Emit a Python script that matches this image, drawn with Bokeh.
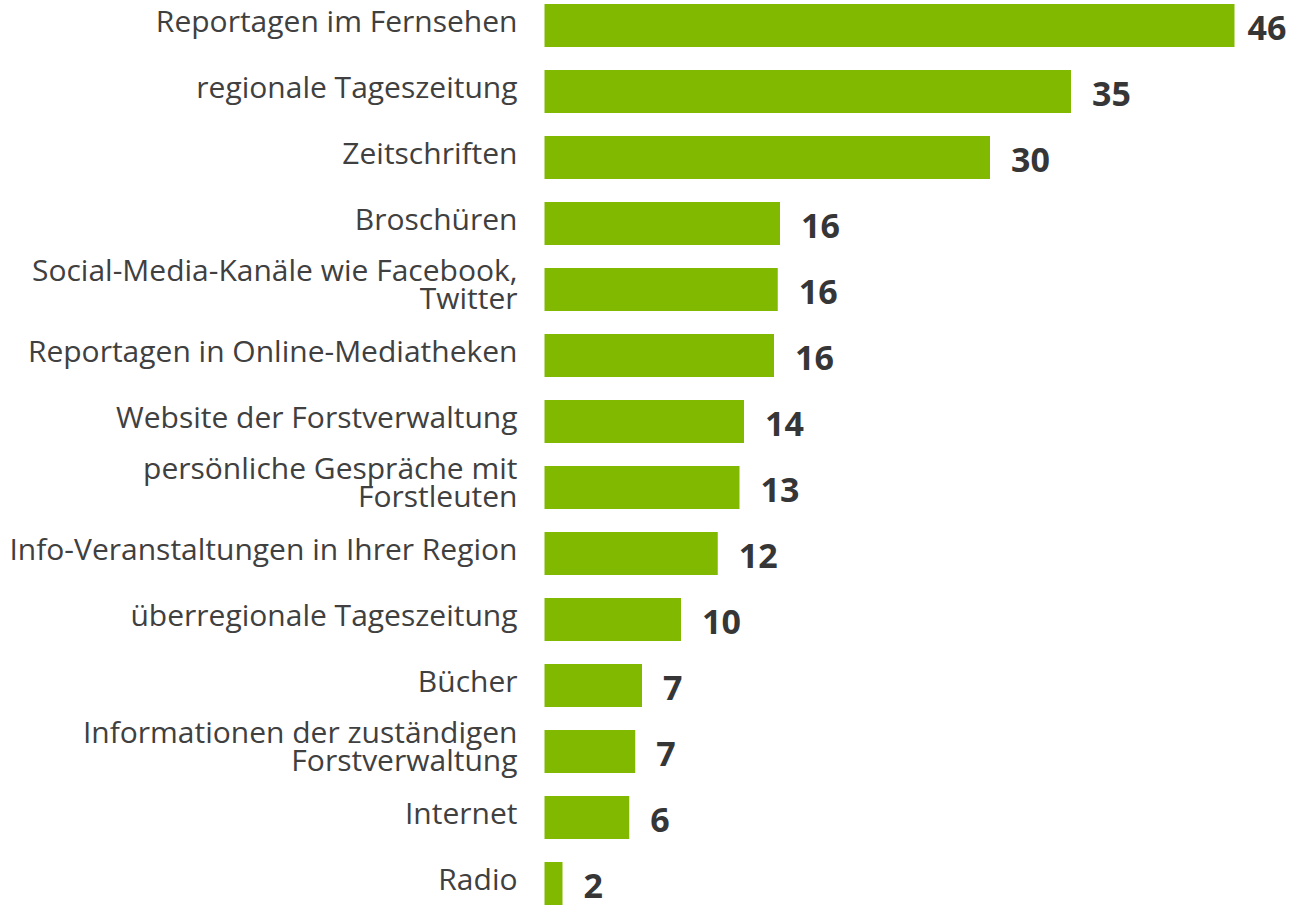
from bokeh.plotting import figure
from bokeh.models import ColumnDataSource, Range1d
from bokeh.core.properties import value
from bokeh.embed import file_html
from bokeh.resources import INLINE

categories = [
    "Reportagen im Fernsehen",
    "regionale Tageszeitung",
    "Zeitschriften",
    "Broschüren",
    "Social-Media-Kanäle wie Facebook,\nTwitter",
    "Reportagen in Online-Mediatheken",
    "Website der Forstverwaltung",
    "persönliche Gespräche mit\nForstleuten",
    "Info-Veranstaltungen in Ihrer Region",
    "überregionale Tageszeitung",
    "Bücher",
    "Informationen der zuständigen\nForstverwaltung",
    "Internet",
    "Radio",
]
bar_values = [46.0, 35.1, 29.7, 15.7, 15.55, 15.3, 13.3, 13.0, 11.55, 9.1, 6.5, 6.05, 5.65, 1.2]
value_labels = ["46", "35", "30", "16", "16", "16", "14", "13", "12", "10", "7", "7", "6", "2"]

W, H = 1287, 908
ROW_PX = 66.0
FIRST_CENTER_PX = 25.0
ORIGIN_PX = 544.0
SCALE = 15.0  # px per unit

BAR_COLOR = "#80B900"
TEXT_COLOR = "#404040"
VALUE_COLOR = "#363636"
FONT = "Open Sans"
TEXT_SHIFT = -11.0

n = len(categories)
rows = list(range(n))

y_top = -FIRST_CENTER_PX / ROW_PX
y_bottom = (H - FIRST_CENTER_PX) / ROW_PX
x_start = -ORIGIN_PX / SCALE
x_end = (W - ORIGIN_PX) / SCALE

p = figure(width=W, height=H, output_backend="svg", toolbar_location=None,
           x_range=Range1d(x_start, x_end), y_range=Range1d(y_bottom, y_top),
           min_border=0, outline_line_color=None)
p.axis.visible = False
p.grid.visible = False
p.background_fill_color = "white"
p.border_fill_color = "white"

bars = ColumnDataSource(dict(y=rows, right=bar_values))
p.hbar(y="y", left=0, right="right", height=43 / ROW_PX, source=bars,
       fill_color=BAR_COLOR, line_color=None)

# value labels
offsets = []
for v in bar_values:
    end_px = ORIGIN_PX + v * SCALE
    offsets.append(21 if end_px + 21 + 40 <= W else 13)
vals = ColumnDataSource(dict(x=bar_values, y=rows, text=value_labels, xo=offsets))
p.text(x="x", y="y", text="text", x_offset="xo", y_offset=13.5 + TEXT_SHIFT, source=vals,
       text_font=value(FONT), text_font_style="bold", text_font_size="34px",
       text_color=VALUE_COLOR, text_align="left", text_baseline="alphabetic")

# category labels (split multi-line labels into separate lines)
lx, ly, lt, lyo = [], [], [], []
LINE_GAP = 28.0
for i, cat in enumerate(categories):
    lines = cat.split("\n")
    k = len(lines)
    for j, line in enumerate(lines):
        lx.append(0)
        ly.append(i)
        lt.append(line)
        lyo.append(5.5 + TEXT_SHIFT + (j - (k - 1) / 2) * LINE_GAP - (1.0 if k > 1 else 0))
labels = ColumnDataSource(dict(x=lx, y=ly, text=lt, yo=lyo))
p.text(x="x", y="y", text="text", x_offset=-27, y_offset="yo", source=labels,
       text_font=value(FONT), text_font_size="30px", text_color=TEXT_COLOR,
       text_align="right", text_baseline="alphabetic")

open("out.html", "w").write(file_html(p, INLINE))
